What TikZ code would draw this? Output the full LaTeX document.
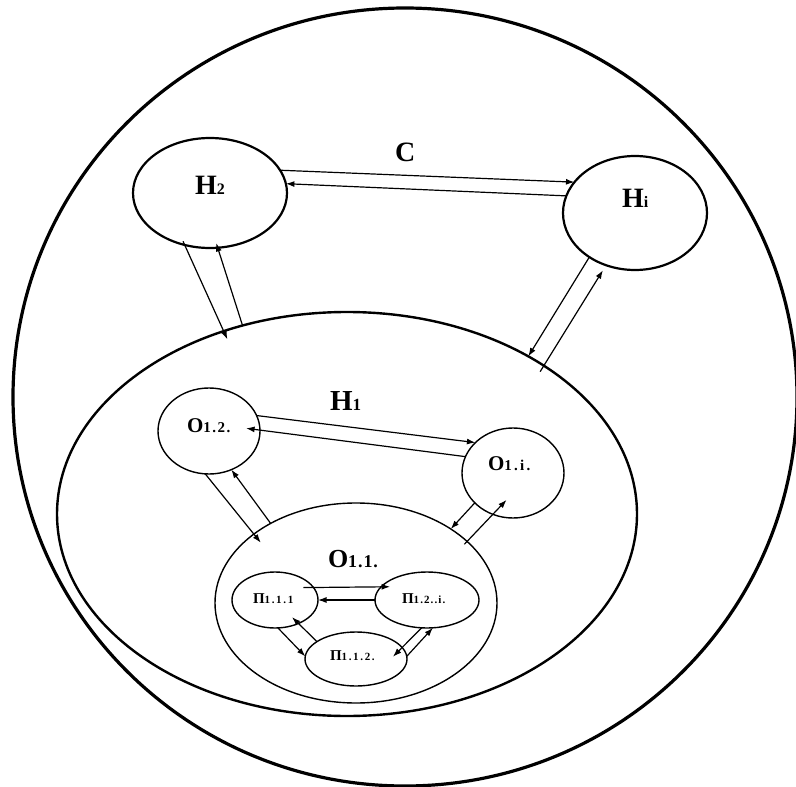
\documentclass[tikz,border=0pt]{standalone}
\usepackage{fontspec}
\setmainfont{Liberation Serif}
\usetikzlibrary{arrows.meta,shapes.geometric}
\newcommand\lab[5]{{\fontsize{#1pt}{#1pt}\selectfont #3}{\fontsize{#2pt}{#2pt}\selectfont\addfontfeature{LetterSpace=#5}#4}}
\begin{document}
\begin{tikzpicture}[x=1pt,y=-1pt,
  ell/.style 2 args={draw,ellipse,inner sep=0pt,outer sep=0pt,minimum width=#1,minimum height=#2},
  arr/.style={-{Latex[length=8.5pt,width=6pt]},line width=1.2pt},
  lbl/.style={inner sep=0pt,outer sep=0pt,anchor=base west,font=\bfseries}]
\fill[white] (0,0) rectangle (796,787);
\useasboundingbox (0,0) rectangle (796,787);
% shapes
\node[ell={784pt}{778pt},line width=3.2pt] (outer) at (405,397) {};
\node[ell={580pt}{404pt},line width=2.4pt] (H1) at (347,514) {};
\node[ell={154pt}{110pt},line width=2.2pt] (H2) at (210,193) {};
\node[ell={144pt}{114pt},line width=2.2pt] (Hi) at (635,213) {};
\node[ell={102pt}{86pt},line width=1.4pt] (O12) at (209,431) {};
\node[ell={102pt}{90pt},line width=1.4pt] (O1i) at (513,473) {};
\node[ell={282pt}{200pt},line width=1.4pt] (O11) at (356,603) {};
\node[ell={86pt}{56pt},line width=1.4pt] (P111) at (275,600) {};
\node[ell={104pt}{56pt},line width=1.4pt] (P12i) at (427,600) {};
\node[ell={102pt}{54pt},line width=1.4pt] (P112) at (356,659) {};
% labels
\node[lbl] (tC) at (395,161) {\fontsize{28pt}{28pt}\selectfont С};
\node[lbl] (tH2) at (195,194) {\lab{28}{16}{Н}{2}{0}};
\node[lbl] (tHi) at (622,207) {\lab{28}{16}{Н}{i}{0}};
\node[lbl] (tH1) at (330,410) {\lab{29}{17}{Н}{1}{0}};
\node[lbl] (tO12) at (187,432) {\lab{21}{15}{О}{1.2.}{10}};
\node[lbl] (tO1i) at (488,470) {\lab{21}{15}{О}{1.i.}{15}};
\node[lbl] (tO11) at (328,567) {\lab{26}{18}{О}{1.1.}{5}};
\node[lbl] (tP111) at (253,603) {\lab{15}{11}{П}{1.1.1}{15}};
\node[lbl] (tP12i) at (402,603) {\lab{15}{11}{П}{1.2..i.}{10}};
\node[lbl] (tP112) at (330,660) {\lab{15}{11}{П}{1.1.2.}{15}};
% connectors
\draw[arr] (H2.18.4) -- (Hi.153.4);
\draw[arr] (Hi.166.5) -- (H2.7.9);
\draw[arr,shorten <=-4pt,shorten >=-9pt] (H2.-116) -- (H1.124.4);
\draw[arr,shorten >=-5pt] (H1.119.1) -- (H2.-82);
\draw[arr,shorten <=-7pt,shorten >=6pt] (H1.37) -- (Hi.-119);
\draw[arr] (Hi.-136.3) -- (H1.41.6);
\draw[arr] (O12.18) -- (O1i.141.7);
\draw[arr,shorten >=-14pt] (O1i.161.6) -- (O12.1);
\draw[arr,shorten >=-11pt] (O12.-95.6) -- (O11.146.2);
\draw[arr] (O11.137.9) -- (O12.-60.3);
\draw[arr] (O1i.-142.7) -- (O11.38.6);
\draw[arr,shorten <=-4pt,shorten >=-20pt] (O11.29.2) -- (O1i.-116.3);
\draw[arr,shorten <=-10pt,shorten >=-9pt] (P111.18.9) -- (P12i.164.2);
\draw[arr] (P12i.180) -- (P111.0);
\draw[arr] (P111.-84) -- (P112.177.8);
\draw[arr,shorten >=-9pt] (P112.156) -- (P111.-45);
\draw[arr,shorten >=-13pt] (P12i.-101.7) -- (P112.14.5);
\draw[arr] (P112.3.4) -- (P12i.-78.7);
\end{tikzpicture}
\end{document}
